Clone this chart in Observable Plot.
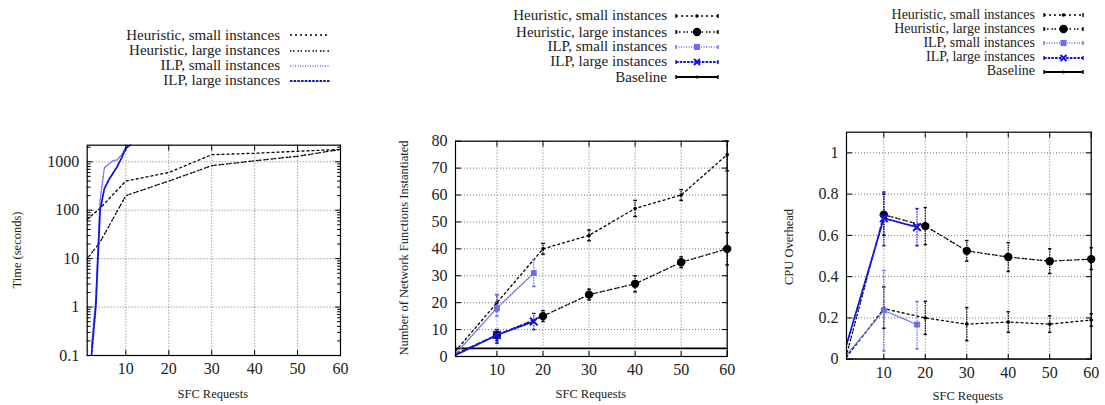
<!DOCTYPE html>
<html><head><meta charset="utf-8">
<script src="https://cdn.jsdelivr.net/npm/d3@7"></script>
<script src="https://cdn.jsdelivr.net/npm/@observablehq/plot@0.6"></script>
<style>
body{margin:0;background:#fff;}
#wrap{position:relative;width:1105px;height:405px;overflow:hidden;font-family:'Liberation Serif','Times New Roman',serif;color:#222;}
.lbl{position:absolute;white-space:nowrap;line-height:14px;}
.leg{position:absolute;white-space:nowrap;text-align:right;width:320px;}
</style></head>
<body><div id="wrap"></div>
<script>
// ---------- data ----------
const xTicks = [10, 20, 30, 40, 50, 60];
const timeTicks = [0.1, 1, 10, 100, 1000];
const timeMinorTicks = [0.2,0.3,0.4,0.5,0.6,0.7,0.8,0.9,2,3,4,5,6,7,8,9,20,30,40,50,60,70,80,90,200,300,400,500,600,700,800,900,2000];
const nfTicks = [0, 10, 20, 30, 40, 50, 60, 70, 80];
const cpuTicks = [0, 0.2, 0.4, 0.6, 0.8, 1];
const seriesNames = ["Heuristic, small instances", "Heuristic, large instances", "ILP, small instances", "ILP, large instances", "Baseline"];

// Panel 1: time (s), log scale
const timeHeurX = [1, 4, 10, 20, 30, 40, 50, 60];
const timeHeurSmall = [65, 110, 400, 600, 1400, 1500, 1650, 1800];
const timeHeurLarge = [10, 22, 200, 400, 830, 1050, 1300, 1800];
const timeIlpX = [2, 3, 4, 5, 6, 7, 8, 9, 10, 12];
const timeIlpSmall = [0.15, 1.5, 160, 750, 900, 1050, 1100, 1400, 2000, 2600];
const timeIlpLarge = [0.1, 1, 100, 280, 420, 580, 800, 1200, 1900, 2600];

// Panel 2: number of network functions
const nfX = [1, 10, 20, 30, 40, 50, 60];
const nfHeurSmall = [2, 20, 40, 45, 55, 60, 75];
const nfHeurSmallLo = [2, 17, 38, 43, 52, 58, 69];
const nfHeurSmallHi = [2, 23, 42, 47, 58, 62, 80];
const nfHeurLarge = [1, 8, 15, 23, 27, 35, 40];
const nfHeurLargeLo = [1, 5, 13, 21, 24, 33, 34];
const nfHeurLargeHi = [1, 10, 17, 25, 30, 37, 46];
const nfIlpX = [1, 10, 18];
const nfIlpSmall = [1, 18, 31];
const nfIlpSmallLo = [1, 15, 26];
const nfIlpSmallHi = [1, 23, 36];
const nfIlpLarge = [0.5, 8, 13];
const nfIlpLargeLo = [0.5, 6, 10];
const nfIlpLargeHi = [0.5, 10, 16];
const nfBaseline = [3, 3, 3, 3, 3, 3, 3];

// Panel 3: CPU overhead
const cpuX = [1, 10, 20, 30, 40, 50, 60];
const cpuHeurSmall = [0.01, 0.245, 0.20, 0.17, 0.18, 0.17, 0.19];
const cpuHeurSmallLo = [0.01, 0.15, 0.12, 0.09, 0.13, 0.13, 0.16];
const cpuHeurSmallHi = [0.01, 0.35, 0.28, 0.25, 0.23, 0.21, 0.22];
const cpuHeurLarge = [0.02, 0.70, 0.645, 0.525, 0.495, 0.475, 0.485];
const cpuHeurLargeLo = [0.02, 0.60, 0.555, 0.475, 0.425, 0.415, 0.435];
const cpuHeurLargeHi = [0.02, 0.80, 0.735, 0.575, 0.565, 0.535, 0.54];
const cpuIlpX = [1, 10, 18];
const cpuIlpSmall = [0.02, 0.236, 0.168];
const cpuIlpSmallLo = [0.02, 0.04, 0.05];
const cpuIlpSmallHi = [0.02, 0.43, 0.28];
const cpuIlpLarge = [0.07, 0.683, 0.64];
const cpuIlpLargeLo = [0.07, 0.55, 0.55];
const cpuIlpLargeHi = [0.07, 0.81, 0.73];
const cpuBaseline = [0, 0, 0, 0, 0, 0, 0];

// ---------- styles ----------
const ST = {
  hs: {stroke: "#000", dash: "2,3", width: 1.3, symbol: "circle", r: 1.8, fill: "#000"},
  hl: {stroke: "#000", dash: "1.5,1.5,1.5,3", width: 1.3, symbol: "circle", r: 4.2, fill: "#000"},
  is: {stroke: "#6b6bf0", dash: "1,1.5", width: 1.4, symbol: "square", r: 3.3, fill: "#6b6bf0"},
  il: {stroke: "#1212e0", dash: "2.5,1.2", width: 1.8, symbol: "times", r: 3.6, fill: "none"},
  bl: {stroke: "#000", dash: null, width: 1.8, symbol: "circle", r: 1.6, fill: "#000"}
};

const wrap = document.getElementById("wrap");
const FONT = "'Liberation Serif','Times New Roman',serif";

function seriesMarks(xs, ys, lo, hi, st, withDots) {
  const data = xs.map((x, i) => ({x, y: ys[i], lo: lo ? lo[i] : null, hi: hi ? hi[i] : null}));
  const marks = [Plot.line(data, {x: "x", y: "y", stroke: st.stroke, strokeWidth: st.width, strokeDasharray: st.dash, clip: true})];
  if (lo) {
    const eb = data.filter(d => d.lo !== d.hi);
    marks.push(Plot.ruleX(eb, {x: "x", y1: "lo", y2: "hi", stroke: st.stroke, strokeWidth: 1.2, strokeDasharray: "1.5,1"}));
    marks.push(Plot.link(eb, {x1: d => d.x - 0.4, x2: d => d.x + 0.4, y1: "lo", y2: "lo", stroke: st.stroke, strokeWidth: 1.4}));
    marks.push(Plot.link(eb, {x1: d => d.x - 0.4, x2: d => d.x + 0.4, y1: "hi", y2: "hi", stroke: st.stroke, strokeWidth: 1.4}));
  }
  if (withDots) {
    const dd = data.filter(d => d.x > 1);
    if (st.symbol === "times") marks.push(Plot.dot(dd, {x: "x", y: "y", symbol: "times", r: st.r, stroke: st.stroke, strokeWidth: 2}));
    else marks.push(Plot.dot(dd, {x: "x", y: "y", symbol: st.symbol, r: st.r, fill: st.fill, stroke: "none"}));
  }
  return marks;
}

function gridAndAxes(yTicks, yFmt) {
  return [
    Plot.gridX(xTicks, {stroke: "#777", strokeOpacity: 1, strokeDasharray: "1,2"}),
    Plot.gridY(yTicks, {stroke: "#777", strokeOpacity: 1, strokeDasharray: "1,2"}),
    Plot.axisX(xTicks, {tickSize: 0, tickPadding: 7, fontSize: 16, label: null, fill: "#222"}),
    Plot.axisY(yTicks, {tickSize: 0, tickPadding: 8, fontSize: 16, label: null, tickFormat: yFmt, fill: "#222"})
  ];
}

// inner (gnuplot-style) tick marks on all four sides of the frame
const tickShape = {draw(ctx, l) { ctx.moveTo(0, 0); ctx.lineTo(0, -l); }};
function frameTicks(xDom, yDom, yTicks, yMinor) {
  const o = {anchor: "start", shape: tickShape, stroke: "#000", strokeWidth: 1};
  const m = [
    Plot.vector(xTicks, {x: d => d, y: yDom[0], length: 5, rotate: 0, ...o}),
    Plot.vector(xTicks, {x: d => d, y: yDom[1], length: 5, rotate: 180, ...o}),
    Plot.vector(yTicks, {x: xDom[0], y: d => d, length: 5, rotate: 90, ...o}),
    Plot.vector(yTicks, {x: xDom[1], y: d => d, length: 5, rotate: -90, ...o})
  ];
  if (yMinor) {
    m.push(Plot.vector(yMinor, {x: xDom[0], y: d => d, length: 3, rotate: 90, ...o}));
    m.push(Plot.vector(yMinor, {x: xDom[1], y: d => d, length: 3, rotate: -90, ...o}));
  }
  return m;
}

function safePlot(opts, extra) {
  try { return Plot.plot({...opts, marks: [...opts.marks.slice(0, -1), ...extra, opts.marks[opts.marks.length - 1]]}); }
  catch (e) { return Plot.plot(opts); }
}

function place(el, left, top) {
  el.style.position = "absolute";
  el.style.left = left + "px";
  el.style.top = top + "px";
  wrap.appendChild(el);
}

function addText(txt, cx, cy, rotate, size) {
  const d = document.createElement("div");
  d.className = "lbl";
  d.textContent = txt;
  d.style.fontSize = (size || 12.5) + "px";
  wrap.appendChild(d);
  const w = d.offsetWidth, h = d.offsetHeight;
  d.style.left = (cx - w / 2) + "px";
  d.style.top = (cy - h / 2) + "px";
  if (rotate) d.style.transform = "rotate(-90deg)";
}

function legendRow(txt, textRight, cy, x1, x2, st, withMarker, size) {
  const d = document.createElement("div");
  d.className = "leg";
  d.textContent = txt;
  d.style.fontSize = size + "px";
  d.style.lineHeight = "16px";
  d.style.left = (textRight - 320) + "px";
  d.style.top = (cy - 8.5) + "px";
  wrap.appendChild(d);
  const ns = "http://www.w3.org/2000/svg";
  const svg = document.createElementNS(ns, "svg");
  svg.setAttribute("width", x2 - x1 + 8);
  svg.setAttribute("height", 14);
  svg.style.position = "absolute";
  svg.style.left = (x1 - 4) + "px";
  svg.style.top = (cy - 7) + "px";
  const ln = document.createElementNS(ns, "line");
  ln.setAttribute("x1", 4); ln.setAttribute("x2", x2 - x1 + 4);
  ln.setAttribute("y1", 7); ln.setAttribute("y2", 7);
  ln.setAttribute("stroke", st.stroke);
  ln.setAttribute("stroke-width", st.width);
  if (st.dash) ln.setAttribute("stroke-dasharray", st.dash);
  svg.appendChild(ln);
  if (withMarker) {
    for (const xe of [4, x2 - x1 + 4]) {
      const c = document.createElementNS(ns, "line");
      c.setAttribute("x1", xe); c.setAttribute("x2", xe);
      c.setAttribute("y1", 5); c.setAttribute("y2", 9);
      c.setAttribute("stroke", st.stroke); c.setAttribute("stroke-width", 1.4);
      svg.appendChild(c);
    }
    const mx = (x2 - x1) / 2 + 4;
    let m;
    if (st.symbol === "square") {
      m = document.createElementNS(ns, "rect");
      m.setAttribute("x", mx - 3); m.setAttribute("y", 4); m.setAttribute("width", 6); m.setAttribute("height", 6);
      m.setAttribute("fill", st.fill);
    } else if (st.symbol === "times") {
      m = document.createElementNS(ns, "path");
      m.setAttribute("d", `M${mx-3},4L${mx+3},10M${mx-3},10L${mx+3},4`);
      m.setAttribute("stroke", st.stroke); m.setAttribute("stroke-width", 2);
    } else {
      m = document.createElementNS(ns, "circle");
      m.setAttribute("cx", mx); m.setAttribute("cy", 7); m.setAttribute("r", st.r);
      m.setAttribute("fill", st.fill);
    }
    svg.appendChild(m);
  }
  wrap.appendChild(svg);
}

const baseStyle = {fontFamily: FONT, fontSize: "16px", color: "#222", background: "transparent", overflow: "visible"};

// ---------- Panel 1 ----------
const p1 = safePlot({
  width: 370, height: 275,
  marginLeft: 86.7, marginRight: 30, marginTop: 14.7, marginBottom: 50,
  style: baseStyle,
  x: {domain: [1, 60]},
  y: {type: "log", domain: [0.1, 2200]},
  marks: [
    ...gridAndAxes(timeTicks, d => String(d)),
    ...seriesMarks(timeHeurX, timeHeurSmall, null, null, ST.hs, false),
    ...seriesMarks(timeHeurX, timeHeurLarge, null, null, ST.hl, false),
    ...seriesMarks(timeIlpX, timeIlpSmall, null, null, ST.is, false),
    ...seriesMarks(timeIlpX, timeIlpLarge, null, null, ST.il, false),
    Plot.frame({stroke: "#000", strokeWidth: 1.2})
  ]
}, frameTicks([1, 60], [0.1, 2200], timeTicks, timeMinorTicks));
place(p1, 0, 130);

// ---------- Panel 2 ----------
const p2 = safePlot({
  width: 370, height: 275,
  marginLeft: 85, marginRight: 13.3, marginTop: 10.7, marginBottom: 49,
  style: baseStyle,
  x: {domain: [1, 60]},
  y: {domain: [0, 80]},
  marks: [
    ...gridAndAxes(nfTicks, d => String(d)),
    ...seriesMarks(nfX, nfBaseline, null, null, ST.bl, false),
    ...seriesMarks(nfX, nfHeurSmall, nfHeurSmallLo, nfHeurSmallHi, ST.hs, true),
    ...seriesMarks(nfX, nfHeurLarge, nfHeurLargeLo, nfHeurLargeHi, ST.hl, true),
    ...seriesMarks(nfIlpX, nfIlpSmall, nfIlpSmallLo, nfIlpSmallHi, ST.is, true),
    ...seriesMarks(nfIlpX, nfIlpLarge, nfIlpLargeLo, nfIlpLargeHi, ST.il, true),
    Plot.frame({stroke: "#000", strokeWidth: 1.2})
  ]
}, frameTicks([1, 60], [0, 80], nfTicks, null));
place(p2, 370, 130);

// ---------- Panel 3 ----------
const p3 = safePlot({
  width: 365, height: 285,
  marginLeft: 106, marginRight: 14.3, marginTop: 11.7, marginBottom: 46.3,
  style: baseStyle,
  x: {domain: [1, 60]},
  y: {domain: [0, 1.1]},
  marks: [
    ...gridAndAxes(cpuTicks, d => String(d)),
    ...seriesMarks(cpuX, cpuHeurSmall, cpuHeurSmallLo, cpuHeurSmallHi, ST.hs, true),
    ...seriesMarks(cpuX, cpuHeurLarge, cpuHeurLargeLo, cpuHeurLargeHi, ST.hl, true),
    ...seriesMarks(cpuIlpX, cpuIlpSmall, cpuIlpSmallLo, cpuIlpSmallHi, ST.is, true),
    ...seriesMarks(cpuIlpX, cpuIlpLarge, cpuIlpLargeLo, cpuIlpLargeHi, ST.il, true),
    ...seriesMarks(cpuX, cpuBaseline, null, null, ST.bl, false),
    Plot.frame({stroke: "#000", strokeWidth: 1.2})
  ]
}, frameTicks([1, 60], [0, 1.1], cpuTicks, null));
place(p3, 740, 120);

// ---------- axis titles ----------
addText("Time (seconds)", 17, 250, true);
addText("SFC Requests", 213, 394);
addText("Number of Network Functions Instantiated", 403, 248, true);
addText("SFC Requests", 591, 394);
addText("CPU Overhead", 789, 247, true);
addText("SFC Requests", 968, 396);

// ---------- legends ----------
const keys = ["hs", "hl", "is", "il", "bl"];
const leg1Y = [35, 50.7, 65.7, 80.5];
leg1Y.forEach((y, i) => legendRow(seriesNames[i], 280, y, 290, 330, ST[keys[i]], false, 15));
const leg2Y = [15.7, 32, 46.7, 61.7, 77.3];
leg2Y.forEach((y, i) => legendRow(seriesNames[i], 667, y, 676, 718, ST[keys[i]], true, 15));
const leg3Y = [15, 29.3, 43.3, 57.7, 71.7];
leg3Y.forEach((y, i) => legendRow(seriesNames[i], 1035, y, 1044, 1083, ST[keys[i]], true, 14));
</script>
</body></html>
